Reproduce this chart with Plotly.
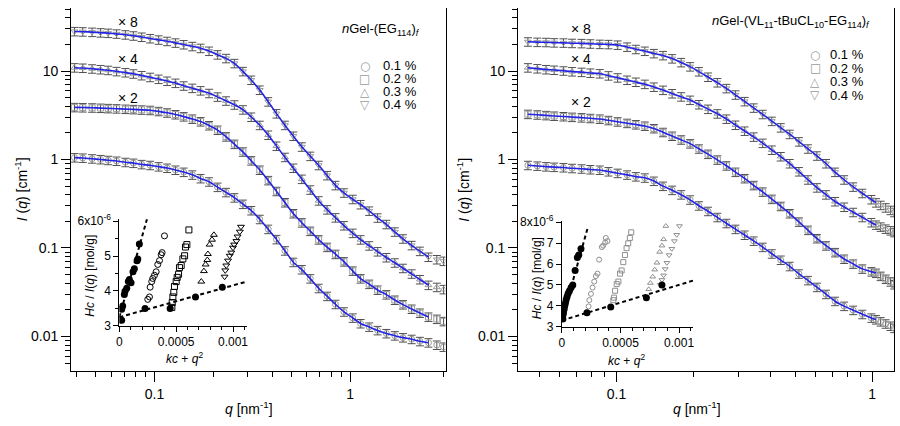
import plotly.graph_objects as go

# ---------------- main panels: q grids ----------------
q_left = [0.039, 0.043, 0.048, 0.053, 0.058, 0.064, 0.071, 0.078, 0.086, 0.095,
          0.105, 0.116, 0.128, 0.141, 0.156, 0.172, 0.19, 0.21, 0.232, 0.256,
          0.283, 0.312, 0.345, 0.381, 0.42, 0.464, 0.512, 0.566, 0.625, 0.69,
          0.762, 0.841, 0.929, 1.03, 1.13, 1.25, 1.38, 1.53, 1.69, 1.86,
          2.06, 2.27, 2.51, 2.77, 3.0]

# left panel nGel-(EG114)f, already multiplied by x1, x2, x4, x8
I_left_x8 = [28, 27.8, 27.5, 27.1, 26.8, 26.3, 25.7, 25.0, 24.2, 23.3,
             22.5, 21.7, 20.8, 19.9, 19.0, 18.1, 16.8, 15.3, 13.9, 12.2,
             9.9, 7.9, 6.1, 4.5, 3.3, 2.44, 1.84, 1.39, 1.09, 0.86,
             0.66, 0.51, 0.42, 0.355, 0.31, 0.262, 0.219, 0.185, 0.152, 0.127,
             0.107, 0.092, 0.079, 0.074, 0.071]
I_left_x4 = [10.9, 10.8, 10.6, 10.4, 10.2, 9.9, 9.6, 9.3, 8.9, 8.5,
             8.1, 7.7, 7.3, 6.8, 6.4, 6.0, 5.6, 5.1, 4.6, 4.15,
             3.65, 3.02, 2.44, 1.89, 1.42, 1.06, 0.80, 0.60, 0.454, 0.342,
             0.271, 0.22, 0.179, 0.147, 0.124, 0.106, 0.091, 0.078, 0.068, 0.059,
             0.051, 0.044, 0.038, 0.036, 0.034]
I_left_x2 = [3.88, 3.86, 3.84, 3.81, 3.78, 3.75, 3.71, 3.68, 3.64, 3.6,
             3.5, 3.37, 3.22, 3.05, 2.87, 2.68, 2.42, 2.15, 1.81, 1.49,
             1.22, 0.97, 0.76, 0.58, 0.437, 0.326, 0.245, 0.193, 0.155, 0.124,
             0.102, 0.085, 0.07, 0.055, 0.045, 0.039, 0.0335, 0.0297, 0.0258, 0.0229,
             0.0204, 0.0184, 0.0166, 0.0157, 0.0148]
I_left_x1 = [1.05, 1.04, 1.02, 1.0, 0.98, 0.96, 0.93, 0.91, 0.88, 0.86,
             0.83, 0.80, 0.76, 0.72, 0.67, 0.61, 0.56, 0.487, 0.425, 0.37,
             0.313, 0.265, 0.211, 0.163, 0.125, 0.093, 0.069, 0.057, 0.045, 0.035,
             0.0285, 0.0231, 0.019, 0.0162, 0.014, 0.0128, 0.0117, 0.0108, 0.0102, 0.0097,
             0.0093, 0.0088, 0.0085, 0.008, 0.0076]

q_right = [0.045, 0.049, 0.053, 0.057, 0.062, 0.067, 0.073, 0.079, 0.086, 0.093,
           0.101, 0.11, 0.119, 0.129, 0.14, 0.152, 0.165, 0.179, 0.194, 0.21,
           0.228, 0.248, 0.269, 0.292, 0.317, 0.344, 0.373, 0.405, 0.439, 0.476,
           0.517, 0.561, 0.608, 0.66, 0.716, 0.777, 0.843, 0.915, 0.993, 1.035,
           1.08, 1.13, 1.18, 1.22]

# right panel nGel-(VL11-tBuCL10-EG114)f
I_right_x8 = [21.4, 21.2, 21.1, 20.9, 20.8, 20.6, 20.5, 20.3, 20.1, 20.0,
              19.7, 18.7, 17.6, 16.8, 15.8, 15.0, 13.8, 12.5, 11.2, 9.85,
              8.55, 7.4, 6.36, 5.38, 4.53, 3.83, 3.24, 2.71, 2.29, 1.93,
              1.59, 1.32, 1.1, 0.9, 0.72, 0.59, 0.49, 0.415, 0.353, 0.325,
              0.304, 0.285, 0.267, 0.253]
I_right_x4 = [10.9, 10.65, 10.4, 10.25, 10.05, 9.85, 9.7, 9.5, 9.35, 8.85,
              8.4, 7.9, 7.5, 7.1, 6.6, 6.08, 5.56, 5.12, 4.69, 4.18,
              3.71, 3.29, 2.87, 2.45, 2.1, 1.8, 1.53, 1.28, 1.08, 0.9,
              0.73, 0.59, 0.48, 0.4, 0.335, 0.29, 0.253, 0.222, 0.194, 0.182,
              0.173, 0.164, 0.157, 0.150]
I_right_x2 = [3.25, 3.2, 3.15, 3.1, 3.06, 3.01, 2.97, 2.92, 2.87, 2.77,
              2.67, 2.57, 2.48, 2.39, 2.24, 2.03, 1.84, 1.67, 1.51, 1.32,
              1.15, 0.99, 0.85, 0.72, 0.61, 0.51, 0.43, 0.356, 0.296, 0.245,
              0.197, 0.159, 0.128, 0.106, 0.089, 0.075, 0.066, 0.058, 0.054, 0.052,
              0.048, 0.0445, 0.0415, 0.0386]
I_right_x1 = [0.86, 0.845, 0.83, 0.82, 0.81, 0.795, 0.785, 0.77, 0.76, 0.73,
              0.70, 0.67, 0.64, 0.62, 0.57, 0.5, 0.45, 0.4, 0.35, 0.30,
              0.26, 0.222, 0.19, 0.163, 0.14, 0.12, 0.102, 0.086, 0.073, 0.062,
              0.051, 0.043, 0.036, 0.030, 0.025, 0.022, 0.0198, 0.0178, 0.0162, 0.0155,
              0.0147, 0.0139, 0.0131, 0.0124]

fit_qmax_left = 2.52
fit_qmax_right = 1.04

concentrations = ["0.1 %", "0.2 %", "0.3 %", "0.4 %"]
scale_labels = ["× 2", "× 4", "× 8"]
y_ticks_main = [0.01, 0.1, 1, 10]
y_ticktext_main = ["0.01", "0.1", "1", "10"]
x_ticks_main = [0.1, 1]
x_ticktext_main = ["0.1", "1"]

# ---------------- insets: Zimm plots (Hc/I in 1e-6 mol/g) ----------------
L_fill_x = [0.0000206, 0.0000206, 0.0000294, 0.000044, 0.00005, 0.000065, 0.000079,
            0.000088, 0.000103, 0.00012, 0.000132, 0.000156, 0.000162, 0.000176,
            0.000226, 0.000447, 0.00067, 0.000906]
L_fill_y = [3.16, 3.48, 3.57, 3.9, 3.99, 4.08, 4.27, 4.33, 4.24, 4.55, 4.64, 4.87, 4.92, 5.35,
            3.5, 3.5, 3.83, 4.11]
L_c1_x = [0.000397, 0.000376, 0.000368, 0.000353, 0.000338, 0.000324, 0.000309, 0.000294,
          0.000285, 0.000271, 0.000265, 0.00025]
L_c1_y = [5.58, 5.1, 5.04, 4.87, 4.76, 4.55, 4.45, 4.36, 4.27, 4.11, 3.83, 3.76]
L_c2_x = [0.000612, 0.000594, 0.000582, 0.000574, 0.000559, 0.000544, 0.000529, 0.000521,
          0.000509, 0.0005, 0.000485, 0.000479, 0.000471, 0.000465, 0.000462]
L_c2_y = [5.75, 5.33, 5.26, 5.01, 4.92, 4.73, 4.67, 4.48, 4.39, 4.27, 4.13, 3.96, 3.83, 3.67, 3.53]
L_c3_x = [0.000832, 0.000815, 0.000794, 0.000779, 0.000774, 0.000759, 0.000744, 0.000721]
L_c3_y = [5.61, 5.47, 5.33, 5.06, 4.89, 4.76, 4.57, 4.27]
L_c4_x = [0.00107, 0.00106, 0.00104, 0.00103, 0.00101, 0.001, 0.000985, 0.000971, 0.000956,
          0.000941, 0.000932, 0.000926]
L_c4_y = [5.84, 5.7, 5.56, 5.43, 5.33, 5.24, 5.1, 5.01, 4.87, 4.73, 4.59, 4.41]
L_steep_x = [0, 0.000244]
L_steep_y = [3.25, 6.07]
L_low_x = [0, 0.00112]
L_low_y = [3.25, 4.27]

R_fill_x = [0.0000085, 0.0000085, 0.000014, 0.00002, 0.000025, 0.000031, 0.000037, 0.000045,
            0.000054, 0.000065, 0.000079, 0.000093, 0.000113, 0.000132, 0.000144, 0.000163,
            0.000214, 0.000417, 0.000721, 0.000854]
R_fill_y = [3.37, 3.55, 3.67, 3.85, 4.0, 4.15, 4.3, 4.45, 4.6, 4.72, 4.87, 4.99, 5.69, 6.31,
            6.43, 6.73, 3.67, 3.94, 4.39, 4.99]
R_c1_x = [0.000375, 0.000389, 0.000369, 0.000352, 0.000341, 0.000318, 0.000304, 0.00029,
          0.000276, 0.000262, 0.000248, 0.000234, 0.000228]
R_c1_y = [7.25, 7.1, 7.03, 6.88, 6.81, 6.21, 5.54, 5.42, 5.16, 4.87, 4.57, 4.27, 3.97]
R_c2_x = [0.000592, 0.00058, 0.000566, 0.000552, 0.000538, 0.000524, 0.00051, 0.000496,
          0.000482, 0.000468, 0.000454, 0.000445, 0.000439]
R_c2_y = [7.52, 7.25, 6.99, 6.76, 6.43, 6.09, 5.69, 5.54, 5.16, 5.04, 4.72, 4.39, 4.27]
R_c3_x = [0.000887, 0.000868, 0.000854, 0.000834, 0.000811, 0.000792, 0.000775, 0.000755, 0.000741]
R_c3_y = [7.82, 7.18, 6.88, 6.58, 6.06, 5.73, 5.39, 5.09, 4.79]
R_c4_x = [0.001003, 0.00098, 0.00096, 0.000938, 0.000915, 0.000896, 0.000882, 0.000868,
          0.000854, 0.000839]
R_c4_y = [7.82, 7.4, 7.1, 6.73, 6.43, 6.06, 5.76, 5.46, 5.24, 5.01]
R_steep_x = [0, 0.00022]
R_steep_y = [3.3, 7.73]
R_low_x = [0, 0.00114]
R_low_y = [3.3, 5.24]

# ---------------- figure ----------------
W, H = 900, 426
FONT = "Liberation Sans, Arial, sans-serif"
BLUE = "#2323e6"
DATA_GRAY = "#9a9a9a"
ERR_GRAY = "#505050"
SYMS = ["circle-open", "square-open", "triangle-up-open", "triangle-down-open"]


def px_x(x):
    return x / W


def px_y(y):
    return 1 - y / H


fig = go.Figure()

panels = [
    ("x", "y", q_left, [I_left_x1, I_left_x2, I_left_x4, I_left_x8], fit_qmax_left),
    ("x2", "y2", q_right, [I_right_x1, I_right_x2, I_right_x4, I_right_x8], fit_qmax_right),
]
for xa, ya, qs, curves, qmax in panels:
    for k, vals in enumerate(curves):
        fig.add_trace(go.Scatter(
            x=qs, y=vals, xaxis=xa, yaxis=ya, mode="markers",
            name=concentrations[k], showlegend=False,
            marker=dict(symbol=SYMS[k], size=6, color=DATA_GRAY, line=dict(width=1, color=DATA_GRAY)),
            error_y=dict(type="percent", value=11, color=ERR_GRAY, thickness=1, width=4),
        ))
    for k, vals in enumerate(curves):
        fq = [q for q in qs if q <= qmax]
        fv = [v for q, v in zip(qs, vals) if q <= qmax]
        fig.add_trace(go.Scatter(
            x=fq, y=fv, xaxis=xa, yaxis=ya, mode="lines", showlegend=False,
            line=dict(color=BLUE, width=1.6, shape="spline", smoothing=0.6),
        ))

# insets
inset_sets = [
    ("x3", "y3", L_fill_x, L_fill_y, [(L_c1_x, L_c1_y), (L_c2_x, L_c2_y), (L_c3_x, L_c3_y), (L_c4_x, L_c4_y)],
     (L_steep_x, L_steep_y), (L_low_x, L_low_y), "black", 6),
    ("x4", "y4", R_fill_x, R_fill_y, [(R_c1_x, R_c1_y), (R_c2_x, R_c2_y), (R_c3_x, R_c3_y), (R_c4_x, R_c4_y)],
     (R_steep_x, R_steep_y), (R_low_x, R_low_y), "#8f8f8f", 5),
]
for xa, ya, fx, fy, groups, steep, low, ocol, osize in inset_sets:
    for k, (gx, gy) in enumerate(groups):
        fig.add_trace(go.Scatter(
            x=gx, y=gy, xaxis=xa, yaxis=ya, mode="markers", showlegend=False,
            marker=dict(symbol=SYMS[k], size=osize, color=ocol, line=dict(width=1, color=ocol)),
        ))
    for lx, ly in (steep, low):
        fig.add_trace(go.Scatter(
            x=lx, y=ly, xaxis=xa, yaxis=ya, mode="lines", showlegend=False,
            line=dict(color="black", width=2, dash="4px,3px"), cliponaxis=False,
        ))
    fig.add_trace(go.Scatter(
        x=fx, y=fy, xaxis=xa, yaxis=ya, mode="markers", showlegend=False,
        marker=dict(symbol="circle", size=7, color="black"),
    ))

minor_log = [m * 10 ** e for e in (-3, -2, -1, 0, 1) for m in range(2, 10)]
tickfont = dict(family=FONT, size=14, color="black")
insetfont = dict(family=FONT, size=12, color="black")

BOT = 376
y_dom = [px_y(BOT), 1.0]
y_rng = [-2.388, 1.712]


def main_y(anchor):
    return dict(type="log", domain=y_dom, range=y_rng, anchor=anchor,
                showline=True, linecolor="black", linewidth=1, mirror=True,
                ticks="outside", ticklen=9, tickwidth=1, tickcolor="black",
                tickvals=y_ticks_main, ticktext=y_ticktext_main, tickfont=tickfont,
                showgrid=False, zeroline=False,
                minor=dict(ticks="outside", ticklen=5, tickcolor="black",
                           tickmode="array", tickvals=minor_log, showgrid=False))


def main_x(anchor, dom, rng):
    return dict(type="log", domain=dom, range=rng, anchor=anchor,
                showline=True, linecolor="black", linewidth=1, mirror=False,
                ticks="outside", ticklen=10, tickwidth=1, tickcolor="black",
                tickvals=x_ticks_main, ticktext=x_ticktext_main, tickfont=tickfont,
                showgrid=False, zeroline=False,
                minor=dict(ticks="outside", ticklen=5, tickcolor="black",
                           tickmode="array", tickvals=minor_log, showgrid=False))


def inset_x(anchor, dom):
    return dict(domain=dom, range=[0, 0.00112], anchor=anchor,
                showline=True, linecolor="black", linewidth=1, mirror=False,
                ticks="outside", ticklen=5, tickcolor="black",
                tickvals=[0, 0.0005, 0.001], ticktext=["0", "0.0005", "0.001"],
                tickfont=insetfont, showgrid=False, zeroline=False,
                minor=dict(ticks="outside", ticklen=3, tickcolor="black", dtick=0.0001, showgrid=False))


def inset_y(anchor, dom, rng, vals, texts, minor_dt):
    return dict(domain=dom, range=rng, anchor=anchor,
                showline=True, linecolor="black", linewidth=1, mirror=False,
                ticks="outside", ticklen=5, tickcolor="black",
                tickvals=vals, ticktext=texts, tickfont=insetfont,
                showgrid=False, zeroline=False,
                minor=dict(ticks="outside", ticklen=3, tickcolor="black", dtick=minor_dt, showgrid=False))


fig.update_layout(
    width=W, height=H, autosize=False,
    margin=dict(l=0, r=0, t=0, b=0),
    paper_bgcolor="white", plot_bgcolor="rgba(0,0,0,0)",
    font=dict(family=FONT, color="black"),
    showlegend=False,
    xaxis=main_x("y", [px_x(68.5), px_x(445)], [-1.426, 0.487]),
    yaxis=main_y("x"),
    xaxis2=main_x("y2", [px_x(518), px_x(896)], [-1.385, 0.0856]),
    yaxis2=main_y("x2"),
    xaxis3=inset_x("y3", [px_x(117), px_x(245)]),
    yaxis3=inset_y("x3", [px_y(329.5), px_y(219)], [3, 6.055], [3, 4, 5, 6],
                   ["3", "4", "5", "6x10<sup>-6</sup>"], 0.5),
    xaxis4=inset_x("y4", [px_x(562), px_x(694)]),
    yaxis4=inset_y("x4", [px_y(330.3), px_y(221)], [3, 8.05], [3, 4, 5, 6, 7, 8],
                   ["3", "4", "5", "6", "7", "8x10<sup>-6</sup>"], 1),
)

ann = []


def add_text(x, y, text, size=14, xanchor="center", angle=0, color="black", family=FONT):
    ann.append(dict(x=px_x(x), y=px_y(y), xref="paper", yref="paper", text=text,
                    showarrow=False, xanchor=xanchor, yanchor="middle", textangle=angle,
                    borderpad=0, font=dict(family=family, size=size, color=color)))


# scale labels
for lbl, y in zip(scale_labels, [93, 53, 15]):
    add_text(126, y, lbl, size=14)
for lbl, y in zip(scale_labels, [97, 53, 22]):
    add_text(581, y, lbl, size=14)

# panel titles
add_text(380, 22, "<i>n</i>Gel-(EG<sub>114</sub>)<sub><i>f</i></sub>", size=13)
add_text(792, 14, "<i>n</i>Gel-(VL<sub>11</sub>-tBuCL<sub>10</sub>-EG<sub>114</sub>)<sub><i>f</i></sub>", size=13)

# legends (symbol glyphs + labels)
glyphs = ["○", "□", "△", "▽"]
for (sx, tx, ys) in [(364, 381, [60, 73.5, 87, 100.5]), (817, 831, [48.5, 62.5, 76.5, 90.5])]:
    for g, lbl, y in zip(glyphs, concentrations, ys):
        add_text(sx, y, g, size=12, color="#9a9a9a", family="DejaVu Sans")
        add_text(tx, y, lbl, size=13, xanchor="left")

# axis titles
for x in (19, 463):
    add_text(x, 188, "<i>I</i> (<i>q</i>) [cm<sup>-1</sup>]", size=14, angle=-90)
for x in (247, 698):
    add_text(x, 415, "<i>q</i> [nm<sup>-1</sup>]", size=14)

# inset titles
add_text(88, 278, "<i>Hc</i> / <i>I</i>(<i>q</i>) [mol/g]", size=12, angle=-90)
add_text(537, 280, "<i>Hc</i> / <i>I</i>(<i>q</i>) [mol/g]", size=12, angle=-90)
add_text(183, 363, "<i>kc</i> + <i>q</i><sup>2</sup>", size=12)
add_text(627, 365, "<i>kc</i> + <i>q</i><sup>2</sup>", size=12)

fig.update_layout(annotations=ann)

PAGE_FIX = (
    "var s=document.createElement('style');"
    "s.innerHTML='html,body{margin:0;padding:0;overflow:hidden;width:900px;height:426px}';"
    "document.head.appendChild(s);"
)
fig.write_html("out.html", config={"displayModeBar": False}, post_script=PAGE_FIX)
